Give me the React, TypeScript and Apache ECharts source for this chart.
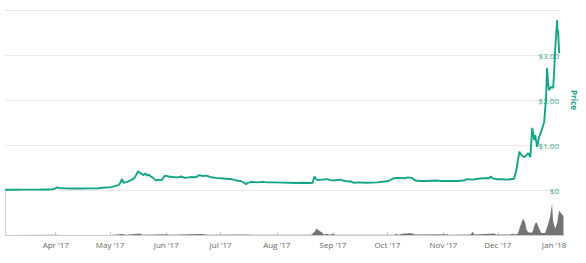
import React, { useEffect, useRef } from "react";
import * as echarts from "echarts";

// ---- Price (USD) ----
const priceDates: string[] = [
  "2017-03-04", "2017-03-09", "2017-03-14", "2017-03-19", "2017-03-24", "2017-03-28", "2017-03-31",
  "2017-04-02", "2017-04-03", "2017-04-06", "2017-04-10", "2017-04-15", "2017-04-20", "2017-04-25", "2017-04-29",
  "2017-05-02", "2017-05-04", "2017-05-06", "2017-05-07", "2017-05-08", "2017-05-09", "2017-05-11", "2017-05-13", "2017-05-15", "2017-05-16",
  "2017-05-17", "2017-05-18", "2017-05-19", "2017-05-20", "2017-05-21", "2017-05-22", "2017-05-23", "2017-05-24", "2017-05-25", "2017-05-26", "2017-05-27", "2017-05-28", "2017-05-30", "2017-05-31",
  "2017-06-01", "2017-06-03", "2017-06-05", "2017-06-08", "2017-06-10", "2017-06-12", "2017-06-14", "2017-06-16", "2017-06-18", "2017-06-20", "2017-06-22", "2017-06-24", "2017-06-26", "2017-06-29",
  "2017-07-02", "2017-07-05", "2017-07-08", "2017-07-11", "2017-07-13", "2017-07-15", "2017-07-16", "2017-07-17", "2017-07-19", "2017-07-22", "2017-07-25", "2017-07-28",
  "2017-08-01", "2017-08-05", "2017-08-09", "2017-08-13", "2017-08-17", "2017-08-20", "2017-08-22", "2017-08-23", "2017-08-24", "2017-08-25", "2017-08-27", "2017-08-30",
  "2017-09-01", "2017-09-03", "2017-09-06", "2017-09-09", "2017-09-12", "2017-09-14", "2017-09-17", "2017-09-20", "2017-09-24", "2017-09-27",
  "2017-10-01", "2017-10-03", "2017-10-06", "2017-10-09", "2017-10-12", "2017-10-14", "2017-10-16", "2017-10-18", "2017-10-21", "2017-10-25", "2017-10-29",
  "2017-11-02", "2017-11-06", "2017-11-10", "2017-11-14", "2017-11-16", "2017-11-19", "2017-11-22", "2017-11-25", "2017-11-28", "2017-11-29", "2017-11-30",
  "2017-12-02", "2017-12-05", "2017-12-08", "2017-12-10", "2017-12-12", "2017-12-13 05:00", "2017-12-14 22:00", "2017-12-16", "2017-12-17 17:00", "2017-12-19 22:00", "2017-12-21",
  "2017-12-22 02:00", "2017-12-23 05:00", "2017-12-23 17:00", "2017-12-24 19:00", "2017-12-25 22:00", "2017-12-27", "2017-12-28 17:00", "2017-12-29 19:00", "2017-12-30 07:00", "2017-12-30 22:00", "2017-12-31 10:00",
  "2018-01-01 14:00", "2018-01-02 17:00", "2018-01-03 05:00", "2018-01-03 19:00", "2018-01-04 22:00", "2018-01-05 02:00", "2018-01-05 10:00", "2018-01-06 00:00", "2018-01-06 05:00",
];
const prices: number[] = [
  0.0065, 0.007, 0.0075, 0.0085, 0.0095, 0.011, 0.02,
  0.06, 0.045, 0.036, 0.034, 0.033, 0.035, 0.04, 0.055,
  0.065, 0.085, 0.11, 0.15, 0.24, 0.16, 0.18, 0.22, 0.27, 0.34,
  0.42, 0.38, 0.36, 0.33, 0.37, 0.32, 0.34, 0.3, 0.28, 0.24, 0.21, 0.23, 0.22, 0.27,
  0.32, 0.3, 0.29, 0.28, 0.3, 0.27, 0.28, 0.29, 0.28, 0.33, 0.31, 0.32, 0.29, 0.27,
  0.26, 0.25, 0.24, 0.21, 0.2, 0.16, 0.13, 0.16, 0.18, 0.17, 0.18, 0.17,
  0.17, 0.165, 0.16, 0.155, 0.16, 0.155, 0.16, 0.3, 0.24, 0.22, 0.23, 0.24,
  0.22, 0.21, 0.23, 0.2, 0.19, 0.16, 0.17, 0.16, 0.165, 0.17,
  0.19, 0.2, 0.26, 0.27, 0.26, 0.28, 0.27, 0.21, 0.2, 0.2, 0.21,
  0.2, 0.2, 0.2, 0.21, 0.24, 0.23, 0.25, 0.26, 0.26, 0.3, 0.26,
  0.24, 0.24, 0.23, 0.24, 0.25, 0.44, 0.85, 0.78, 0.73, 0.82, 0.73,
  1.38, 1.11, 1.22, 0.96, 1.18, 1.29, 1.51, 2.07, 2.71, 2.38, 2.22,
  2.29, 2.27, 2.6, 3.1, 3.78, 3.49, 3.56, 3.07, 3.04,
];

// ---- Volume (billions USD) ----
const volumeDates: string[] = [
  "2017-03-04", "2017-04-02", "2017-04-03", "2017-05-01", "2017-05-08", "2017-05-10", "2017-05-16", "2017-05-17", "2017-05-19",
  "2017-06-01", "2017-06-03", "2017-06-20", "2017-06-22", "2017-06-24", "2017-07-16", "2017-07-18",
  "2017-08-20", "2017-08-22", "2017-08-23", "2017-08-24", "2017-08-26", "2017-08-27", "2017-08-29", "2017-08-30", "2017-09-01", "2017-09-02",
  "2017-10-05", "2017-10-06", "2017-10-07", "2017-10-10", "2017-10-12", "2017-10-13", "2017-10-15", "2017-10-16",
  "2017-11-03", "2017-11-04", "2017-11-16", "2017-11-17", "2017-11-18", "2017-11-29", "2017-11-30",
  "2017-12-08", "2017-12-09", "2017-12-10", "2017-12-12", "2017-12-13 05:00", "2017-12-14 22:00", "2017-12-16", "2017-12-17", "2017-12-18", "2017-12-20",
  "2017-12-21 12:00", "2017-12-22 12:00", "2017-12-23 17:00", "2017-12-25", "2017-12-27", "2017-12-28", "2017-12-29 19:00", "2017-12-30 22:00", "2017-12-31 10:00",
  "2018-01-01 14:00", "2018-01-02 17:00", "2018-01-03 19:00", "2018-01-04 22:00", "2018-01-06 00:00", "2018-01-06 05:00",
];
const volumes: number[] = [
  0.02, 0.05, 0.02, 0.03, 0.25, 0.05, 0.3, 0.35, 0.08,
  0.2, 0.05, 0.25, 0.2, 0.05, 0.15, 0.04,
  0.05, 0.9, 1.7, 1.2, 0.6, 0.1, 0.3, 0.05, 0.3, 0.05,
  0.05, 0.3, 0.05, 0.4, 0.35, 0.5, 0.4, 0.1,
  0.2, 0.05, 0.1, 0.8, 0.1, 0.4, 0.1,
  0.1, 0.4, 0.1, 0.3, 2.0, 4.1, 3.1, 1.1, 0.6, 0.6,
  2.9, 3.1, 1.6, 0.5, 0.5, 1.6, 4.4, 7.9, 3.6,
  1.6, 2.9, 6.1, 5.4, 4.9, 4.5,
];

const priceTicks: number[] = [0, 1, 2, 3, 4];
const monthNames: string[] = ["Jan", "Feb", "Mar", "Apr", "May", "Jun", "Jul", "Aug", "Sep", "Oct", "Nov", "Dec"];
const axisStart = "2017-03-04";
const axisEnd = "2018-01-06 12:00";

const TEAL = "#14a587";
const FONT = "Open Sans";

export default function App() {
  const ref = useRef<HTMLDivElement>(null);
  useEffect(() => {
    if (!ref.current) return;
    const chart = echarts.init(ref.current, undefined, { renderer: "svg" });
    const priceData = priceDates.map((d, i) => [d, prices[i]]);
    const volumeData = volumeDates.map((d, i) => [d, volumes[i]]);
    chart.setOption({
      animation: false,
      grid: [
        { left: 5, right: 22, top: 10, bottom: 73 },
        { left: 5, right: 22, top: 190, bottom: 28 },
      ],
      xAxis: [
        {
          type: "time",
          gridIndex: 0,
          min: axisStart,
          max: axisEnd,
          show: false,
        },
        {
          type: "time",
          gridIndex: 1,
          min: axisStart,
          max: axisEnd,
          splitNumber: 10,
          axisLine: { show: true, lineStyle: { color: "#cccccc", width: 1 } },
          axisTick: { show: true, inside: true, length: 3, lineStyle: { color: "#cccccc" } },
          splitLine: { show: false },
          axisLabel: {
            color: "#666666",
            fontFamily: FONT,
            fontSize: 8,
            margin: 5,
            hideOverlap: false,
            formatter: (v: number) => {
              const d = new Date(v);
              return monthNames[d.getMonth()] + " '" + String(d.getFullYear()).slice(2);
            },
          },
        },
      ],
      yAxis: [
        {
          type: "value",
          gridIndex: 0,
          position: "right",
          min: priceTicks[0],
          max: priceTicks[priceTicks.length - 1],
          interval: 1,
          name: "Price",
          nameLocation: "middle",
          nameRotate: -90,
          nameGap: 10,
          nameTextStyle: { color: TEAL, fontFamily: FONT, fontSize: 8, fontWeight: "bold" },
          axisLine: { show: false },
          axisTick: { show: false },
          splitLine: { show: true, lineStyle: { color: "#e8e8e8", width: 1 } },
          axisLabel: {
            inside: true,
            margin: 1,
            color: "#3aa78f",
            fontFamily: FONT,
            fontSize: 8,
            showMaxLabel: false,
            formatter: (v: number) => (v === 0 ? "$0" : v === priceTicks[priceTicks.length - 1] ? "" : "$" + v.toFixed(2)),
          },
        },
        {
          type: "value",
          gridIndex: 1,
          position: "left",
          min: 0,
          max: 11.25,
          axisLine: { show: true, lineStyle: { color: "#cccccc", width: 1 } },
          axisTick: { show: false },
          axisLabel: { show: false },
          splitLine: { show: false },
        },
      ],
      series: [
        {
          type: "line",
          name: "Price",
          xAxisIndex: 0,
          yAxisIndex: 0,
          data: priceData,
          showSymbol: false,
          symbol: "none",
          lineStyle: { color: TEAL, width: 1.9 },
          z: 3,
        },
        {
          type: "line",
          name: "Volume",
          xAxisIndex: 1,
          yAxisIndex: 1,
          data: volumeData,
          showSymbol: false,
          symbol: "none",
          lineStyle: { width: 0, color: "#707070" },
          areaStyle: { color: "#747474", opacity: 1 },
        },
      ],
    });
    return () => chart.dispose();
  }, []);
  return <div ref={ref} style={{ width: 586, height: 263, position: "absolute", left: 0, top: 0, background: "#fff" }} />;
}
